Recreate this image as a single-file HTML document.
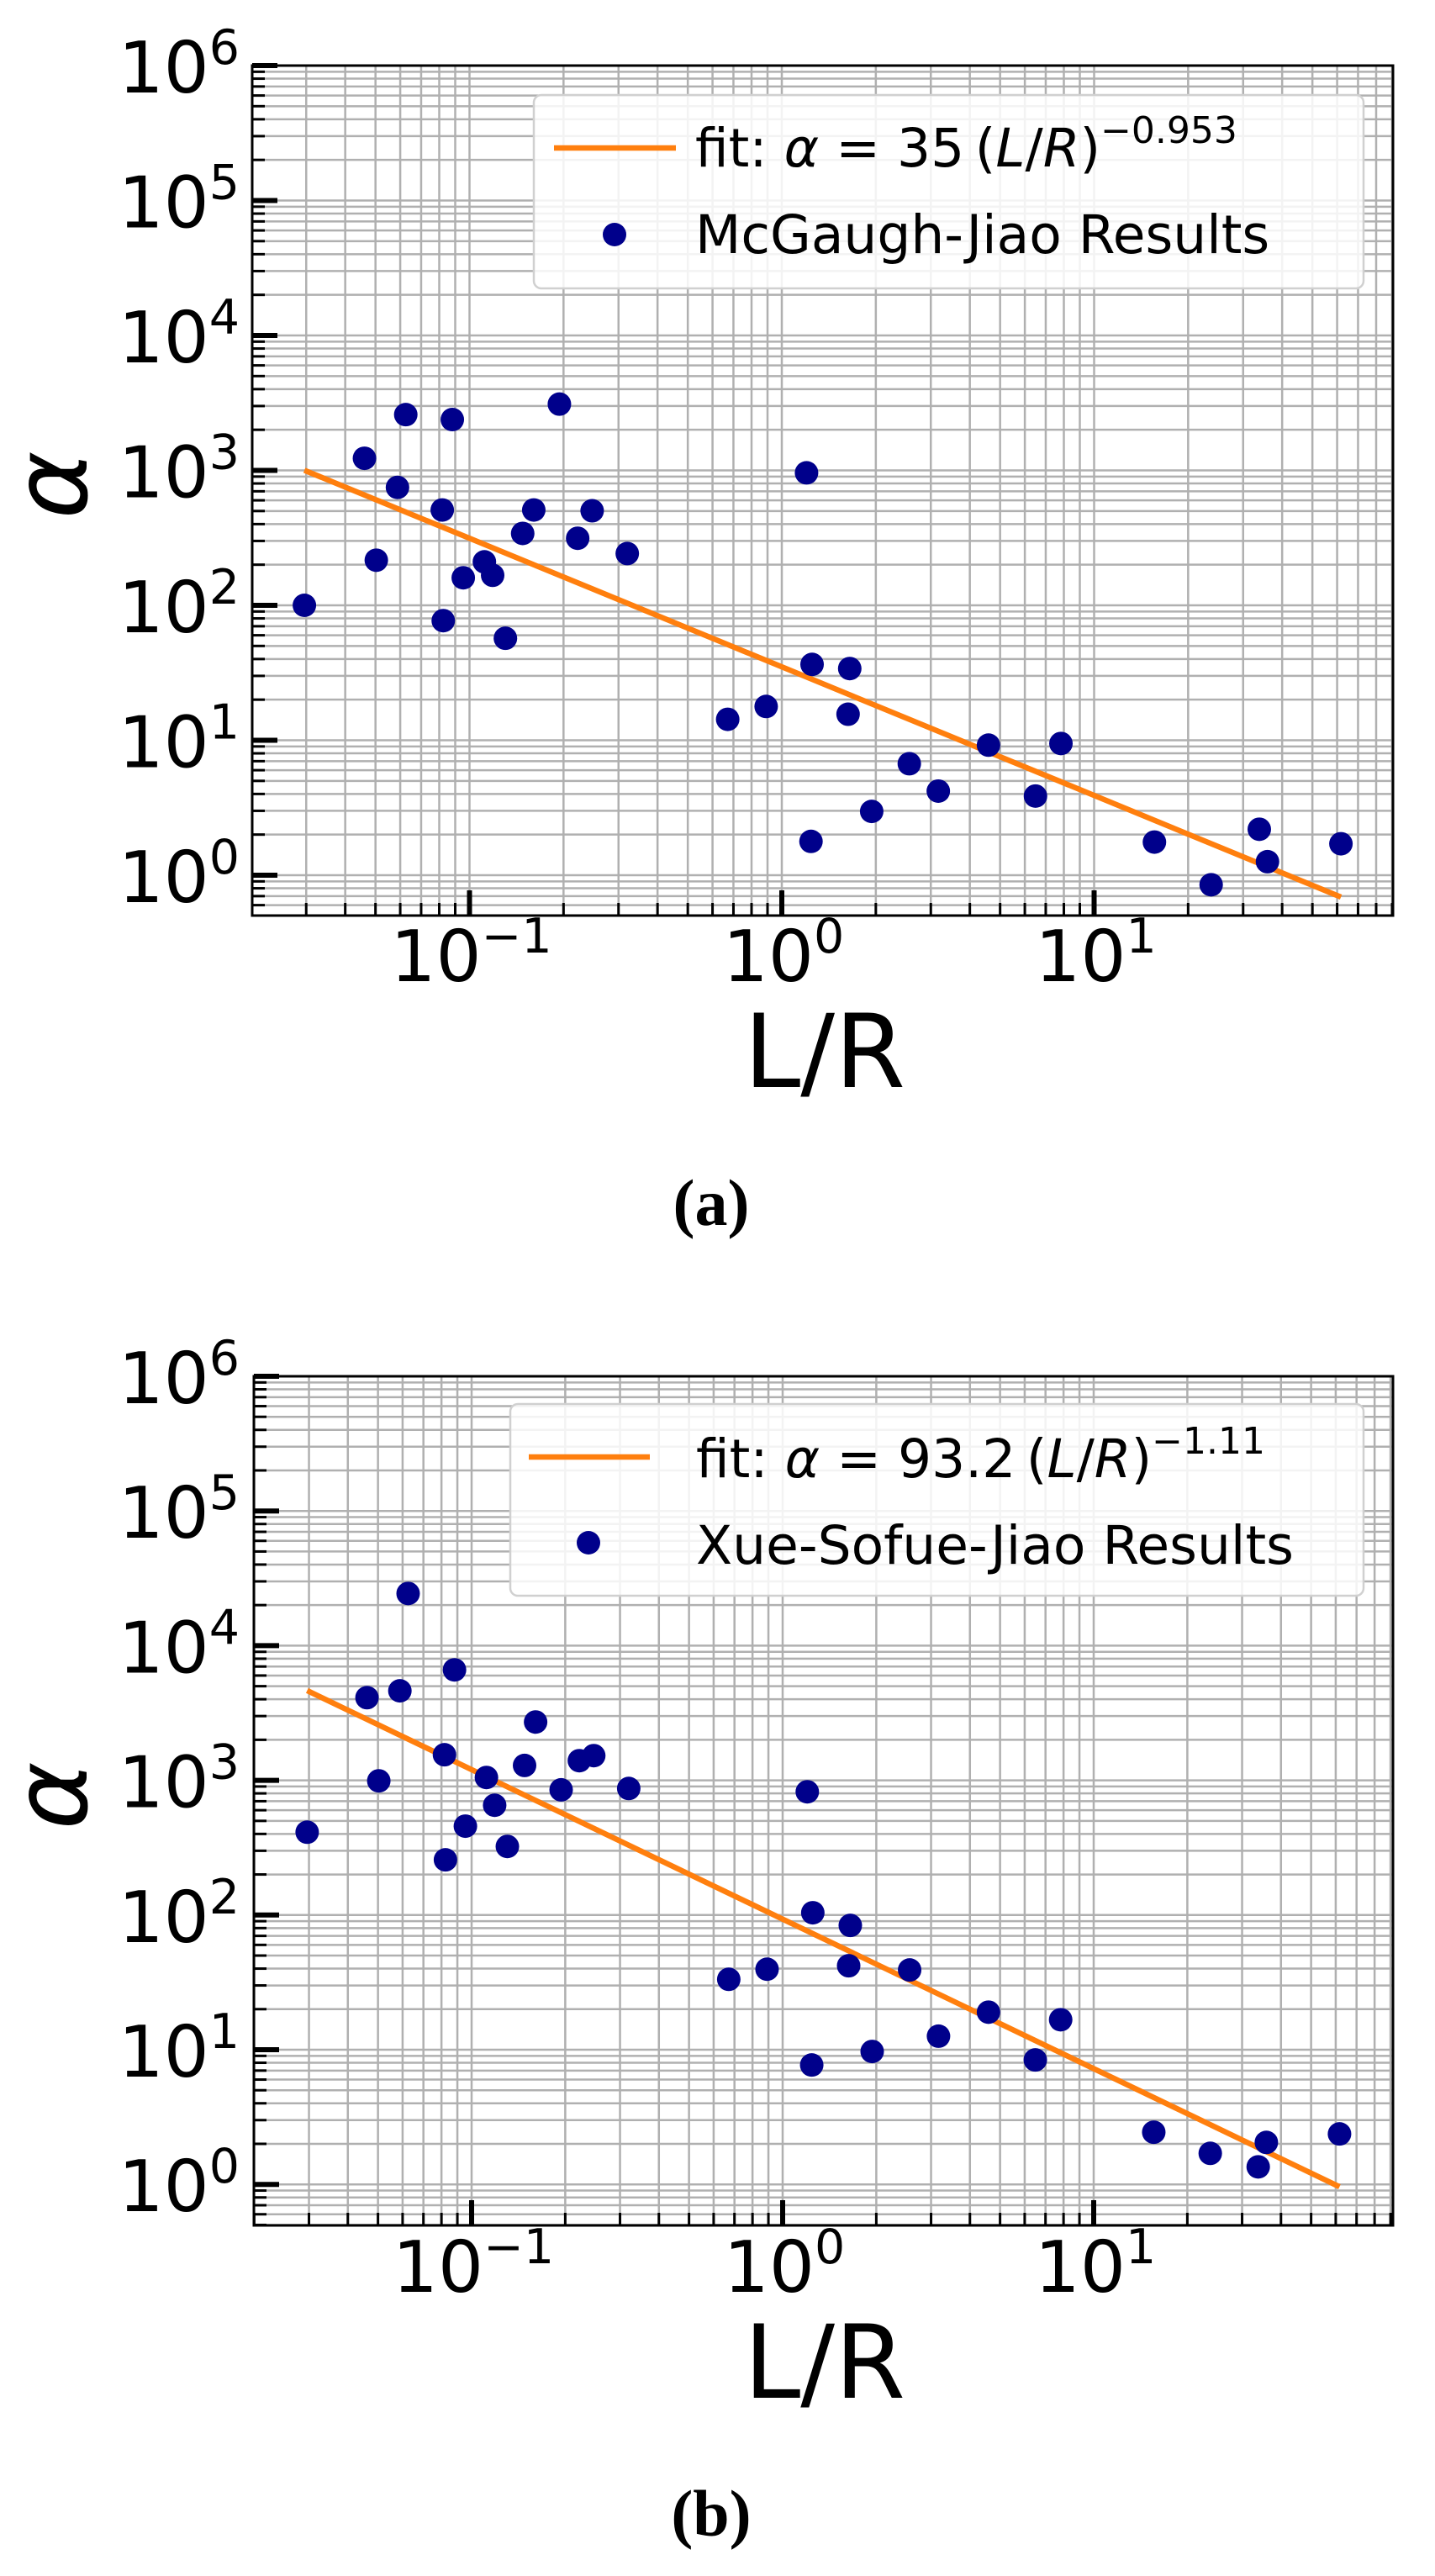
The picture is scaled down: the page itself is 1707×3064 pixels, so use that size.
<!DOCTYPE html>
<html><head><meta charset="utf-8">
<style>
html,body{margin:0;padding:0;background:#fff;}
svg{display:block;}
</style></head>
<body>
<svg id="fig" width="1707" height="3064" viewBox="0 0 1707 3064" xmlns="http://www.w3.org/2000/svg" font-family="DejaVu Sans, Liberation Sans, sans-serif"></svg>
<script>
// ---- data ----
const xVals = [0.0296,0.0461,0.0503,0.0588,0.0625,0.0818,0.0824,0.0881,0.0955,0.1116,0.1186,0.1303,0.148,0.1606,0.194,0.222,0.247,0.320,0.671,0.891,1.20,1.25,1.24,1.65,1.63,1.94,2.56,3.17,4.59,6.49,7.83,15.6,23.7,33.8,35.9,61.7];
const yValsA = [100,1230,216,748,2590,509,77,2380,160,210,167,57,341,509,3100,314,502,242,14.3,17.8,959,36.5,1.78,34,15.6,2.97,6.7,4.2,9.2,3.86,9.46,1.76,0.85,2.19,1.26,1.71];
const yValsB = [412,4110,991,4620,24400,1549,257,6610,457,1050,653,323,1290,2710,850,1400,1525,870,33.3,39.6,822,104,7.7,83.7,42,9.7,39.1,12.6,19.0,8.4,16.7,2.44,1.70,1.35,2.05,2.37];
const fitA = [35, -0.953];
const fitB = [93.2, -1.11];
const xTickLabels = ["10","10","10"];
const xTickExps = ["\u22121","0","1"];
const yTickExps = ["0","1","2","3","4","5","6"];

const NS = "http://www.w3.org/2000/svg";
const svg = document.getElementById('fig');
function mk(tag, attrs, parent){
  const e = document.createElementNS(NS, tag);
  for (const k in attrs) e.setAttribute(k, attrs[k]);
  (parent||svg).appendChild(e);
  return e;
}

function drawPanel(cfg){
  const g = mk('g', {});
  
  
  const L=cfg.left, R=cfg.right, T=cfg.top, B=cfg.bottom;
  const X = v => cfg.x0 + Math.log10(v)*cfg.xdec;
  const Y = v => cfg.y6 + (6 - Math.log10(v))*cfg.ydec;
  const xmin = Math.pow(10,(L-cfg.x0)/cfg.xdec), xmax = Math.pow(10,(R-cfg.x0)/cfg.xdec);
  const ymin = Math.pow(10,6-(B-cfg.y6)/cfg.ydec);
  // grid
  const grid = mk('g', {stroke:'#b0b0b0','stroke-width':2.5}, g);
  
  
  for (let d=-2; d<=2; d++){
    for (let m=1; m<=9; m++){
      const v = m*Math.pow(10,d);
      if (v<xmin || v>xmax) continue;
      const x = X(v);
      mk('line',{x1:x,x2:x,y1:T,y2:B},grid);
    }
  }
  for (let d=-1; d<=6; d++){
    for (let m=1; m<=9; m++){
      const v = m*Math.pow(10,d);
      if (v<ymin || v>1e6+1) continue;
      const y = Y(v);
      mk('line',{x1:L,x2:R,y1:y,y2:y},grid);
    }
  }
  // ticks
  const ticks = mk('g',{stroke:'#000'},g);
  for (let d=-2; d<=2; d++){
    for (let m=1; m<=9; m++){
      const v = m*Math.pow(10,d);
      if (v<xmin || v>xmax) continue;
      const x = X(v), major = (m===1);
      mk('line',{x1:x,x2:x,y1:B,y2:B-(major?30:15),'stroke-width':major?6:3},ticks);
    }
  }
  for (let d=-1; d<=6; d++){
    for (let m=1; m<=9; m++){
      const v = m*Math.pow(10,d);
      if (v<ymin || v>1e6+1) continue;
      const y = Y(v), major=(m===1);
      mk('line',{x1:L,x2:L+(major?30:15),y1:y,y2:y,'stroke-width':major?6:3},ticks);
    }
  }
  // spines
  const sp = mk('rect',{x:L,y:T,width:R-L,height:B-T,fill:'none',stroke:'#000','stroke-width':3},g);
  
  
  // y tick labels
  yTickExps.forEach((e,i)=>{
    const y = Y(Math.pow(10,i));
    const t = mk('text',{x:285,y:y+32,'text-anchor':'end','font-size':85,fill:'#000'},g);
    
    
    const a = mk('tspan',{},t); a.textContent='10';
    const b = mk('tspan',{'font-size':57,dy:-34},t); b.textContent=e;
  });
  // x tick labels
  xTickExps.forEach((e,i)=>{
    const x = X(Math.pow(10,i-1));
    const t = mk('text',{x:x+2,y:cfg.xlabY,'text-anchor':'middle','font-size':85,fill:'#000'},g);
    
    
    const a = mk('tspan',{},t); a.textContent=xTickLabels[i];
    const b = mk('tspan',{'font-size':57,dy:-34},t); b.textContent=e;
  });
  // axis titles
  const xt = mk('text',{x:981,y:cfg.xTitleY,'text-anchor':'middle','font-size':121,fill:'#000'},g);
  xt.textContent='L/R';
  
  
  const yt = mk('text',{x:0,y:0,'text-anchor':'middle','font-size':123,'font-style':'italic',fill:'#000',transform:`translate(103,${cfg.yTitleY}) rotate(-90)`},g);
  yt.textContent='\u03B1';
  
  
  // fit line
  const xa = cfg.xs[0], xb = cfg.xs[cfg.xs.length-1];
  const fl = mk('line',{x1:X(xa),y1:Y(cfg.fit[0]*Math.pow(xa,cfg.fit[1])),x2:X(xb),y2:Y(cfg.fit[0]*Math.pow(xb,cfg.fit[1])),stroke:'#ff7f0e','stroke-width':6.5},g);
  
  
  // points
  const pg = mk('g',{fill:'#00008b'},g);
  
  
  cfg.xs.forEach((xv,i)=>{
    const c = mk('circle',{cx:X(xv),cy:Y(cfg.ys[i]),r:14},pg);
    
    
  });
  // legend
  const lg = mk('g',{},g);
  
  
  const lb = cfg.leg;
  mk('rect',{x:lb.x,y:lb.y,width:lb.w,height:lb.h,rx:9,fill:'#fff','fill-opacity':0.85,stroke:'#d0d0d0','stroke-width':2.5},lg);
  const ll = mk('line',{x1:lb.lx1,x2:lb.lx2,y1:lb.ly,y2:lb.ly,stroke:'#ff7f0e','stroke-width':6.5},lg);
  
  
  const ld = mk('circle',{cx:lb.dx,cy:lb.dy,r:14,fill:'#00008b'},lg);
  
  
  const t1 = mk('text',{x:lb.tx,y:lb.b1,'font-size':63,fill:'#000'},lg);
  
  
  const parts = [['fit: ',''],['\u03B1','i'],[' = '+cfg.fitText+'\u2009(',''],['L','i'],['/',''],['R','i'],[')',''],[cfg.expText,'s']];
  parts.forEach(p=>{
    const s = mk('tspan',{},t1);
    if (p[1]==='i') s.setAttribute('font-style','italic');
    if (p[1]==='s'){ s.setAttribute('font-size','44'); s.setAttribute('dy','-28'); }
    s.textContent = p[0];
  });
  const t2 = mk('text',{x:lb.tx,y:lb.b2,'font-size':63,fill:'#000'},lg);
  
  
  t2.textContent = cfg.seriesName;
  // caption
  const cap = mk('text',{x:846,y:cfg.capY,'text-anchor':'middle','font-size':78,'font-weight':'bold','font-family':'Liberation Serif, serif',fill:'#000'},g);
  cap.textContent = cfg.caption;
  
  
}

drawPanel({name:'panel-a',left:300,right:1657,top:78,bottom:1089,x0:930,xdec:371.5,y6:78,ydec:160.5,
  xlabY:1167,xTitleY:1293,yTitleY:577,capY:1457,xs:xVals,ys:yValsA,fit:fitA,fitText:'35',expText:'\u22120.953',
  seriesName:'McGaugh-Jiao Results',caption:'(a)',
  leg:{x:635,y:113,w:987,h:230,lx1:659,lx2:804,ly:176,dx:731,dy:279,tx:827,b1:198,b2:301}});
drawPanel({name:'panel-b',left:302,right:1657,top:1637,bottom:2647,x0:931,xdec:370,y6:1637,ydec:160.2,
  xlabY:2726,xTitleY:2852,yTitleY:2136,capY:3016,xs:xVals,ys:yValsB,fit:fitB,fitText:'93.2',expText:'\u22121.11',
  seriesName:'Xue-Sofue-Jiao Results',caption:'(b)',
  leg:{x:607,y:1670,w:1015,h:228,lx1:629,lx2:773,ly:1733,dx:700,dy:1835,tx:828,b1:1757,b2:1860}});
</script>
</body></html>
